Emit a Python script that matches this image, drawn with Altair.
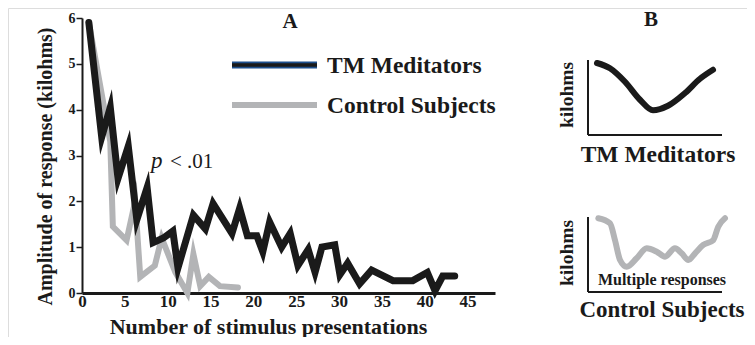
import altair as alt
import pandas as pd

# ---- Panel A data ----
tm_x = [0.8, 2.3, 3.3, 4.2, 5.4, 6.4, 7.6, 8.3, 9.5, 10.6, 11.2, 13.0, 14.4, 15.3, 17.5,
        18.4, 19.3, 20.4, 21.1, 21.9, 23.3, 24.3, 25.2, 26.4, 27.2, 28.0, 29.5, 30.1,
        31.0, 32.4, 33.8, 36.3, 38.6, 40.3, 41.2, 42.1, 43.5]
tm_y = [5.9, 3.4, 4.05, 2.5, 3.2, 1.6, 2.3, 1.1, 1.2, 1.35, 0.55, 1.7, 1.4, 1.95, 1.3,
        1.85, 1.25, 1.25, 0.9, 1.55, 1.0, 1.3, 0.6, 0.95, 0.45, 1.0, 1.05, 0.4,
        0.65, 0.2, 0.5, 0.27, 0.27, 0.45, 0.05, 0.37, 0.37]
ctl_x = [0.8, 3.3, 3.6, 5.2, 6.2, 6.8, 8.5, 9.3, 10.9, 12.3, 13.0, 13.8, 14.8, 16.1, 18.2]
ctl_y = [5.9, 3.3, 1.45, 1.15, 2.0, 0.35, 0.6, 1.2, 0.45, 0.0, 0.85, 0.15, 0.35, 0.15, 0.12]
series_names = ["Control Subjects", "TM Meditators"]
x_ticks = [0, 5, 10, 15, 20, 25, 30, 35, 40, 45]
y_ticks = [0, 1, 2, 3, 4, 5, 6]

# ---- Panel B schematic curves ----
b_tm_x = [0.67, 1.64, 2.76, 3.88, 4.85, 5.97, 7.24, 8.36, 9.33]
b_tm_y = [9.6, 8.9, 7.1, 4.7, 3.3, 3.9, 5.6, 7.5, 8.7]
b_ctl_x = [0.77, 1.64, 2.01, 2.39, 2.89, 3.63, 4.38, 5.13, 5.75, 6.49, 6.99, 7.49,
           7.99, 8.6, 9.35, 9.72, 10.22]
b_ctl_y = [9.83, 9.16, 6.93, 4.27, 3.37, 4.49, 5.83, 5.37, 4.71, 5.83, 5.16, 4.27,
           5.16, 6.27, 6.93, 8.71, 9.83]

W, H = 739, 329
SERIF = "Liberation Serif"
INK = "#1a1a1a"
GRAY = "#b3b4b6"
BLUE = "#1d4f8c"

main_df = pd.DataFrame({
    "x": ctl_x + tm_x,
    "y": ctl_y + tm_y,
    "series": [series_names[0]] * len(ctl_x) + [series_names[1]] * len(tm_x),
})

X_AXIS_Y = 285
xs = alt.Scale(domain=[0, 48.2], range=[74, 487], nice=False, zero=False)
ys = alt.Scale(domain=[0, 6], range=[X_AXIS_Y, 10], nice=False)

main = alt.Chart(main_df).mark_line(strokeJoin="miter", strokeCap="round", strokeMiterLimit=10).encode(
    x=alt.X("x:Q", scale=xs, axis=alt.Axis(
        values=x_ticks, offset=X_AXIS_Y - H, tickSize=0, labelFlush=False, labelOverlap=False,
        labelFont=SERIF, labelFontSize=17, labelFontWeight="bold", labelColor=INK,
        labelPadding=0, domainColor=INK, domainWidth=3, grid=False,
        title="Number of stimulus presentations", titleFont=SERIF, titleFontSize=22,
        titleFontWeight="bold", titleColor=INK, titleX=260, titleY=33,
        titleAlign="center", titleBaseline="middle")),
    y=alt.Y("y:Q", scale=ys, axis=alt.Axis(
        values=y_ticks, offset=-74, tickSize=6, tickWidth=1.5, tickColor=INK,
        labelFont=SERIF, labelFontSize=14, labelFontWeight="bold", labelColor=INK,
        labelPadding=1, labelOverlap=False, domainColor=INK, domainWidth=2, grid=False,
        title="Amplitude of response (kilohms)", titleFont=SERIF, titleFontSize=20,
        titleFontWeight="bold", titleColor=INK, titleX=-37, titleY=158, titleAngle=270,
        titleAlign="center", titleBaseline="middle")),
    color=alt.Color("series:N", scale=alt.Scale(domain=series_names, range=[GRAY, INK]), legend=None),
    strokeWidth=alt.StrokeWidth("series:N", scale=alt.Scale(domain=series_names, range=[6, 7]), legend=None),
    order=alt.Order("x:Q"),
)


def b_panel(cx, cy, color, y_range):
    bx = alt.Scale(domain=[0, 10], range=[580, 714], nice=False, zero=False)
    by = alt.Scale(domain=[0, 10], range=y_range, nice=False, zero=False)
    curve = alt.Chart(pd.DataFrame({"x": cx, "y": cy})).mark_line(
        color=color, strokeWidth=6, strokeCap="round", interpolate="monotone").encode(
        x=alt.X("x:Q", scale=bx, axis=None), y=alt.Y("y:Q", scale=by, axis=None))
    ax = alt.Chart(pd.DataFrame({"x": [0, 0], "y": [0, 0], "x2": [0, 10], "y2": [10, 0]})).mark_rule(
        color=INK, strokeWidth=2).encode(
        x=alt.X("x:Q", scale=bx, axis=None), y=alt.Y("y:Q", scale=by, axis=None),
        x2="x2:Q", y2="y2:Q")
    return alt.layer(ax, curve)


b1 = b_panel(b_tm_x, b_tm_y, INK, [127, 52])
b2 = b_panel(b_ctl_x, b_ctl_y, GRAY, [284, 209])


def label(s, x, y, size, weight="bold", style="normal", align="center", baseline="middle", angle=0):
    return alt.Chart(pd.DataFrame({"t": [s]})).mark_text(
        font=SERIF, fontSize=size, fontWeight=weight, fontStyle=style, color=INK,
        align=align, baseline=baseline, angle=angle).encode(
        text="t:N", x=alt.value(x), y=alt.value(y))


def legend_rule(x1, x2, y, color, width):
    return alt.Chart(pd.DataFrame({"k": [0]})).mark_rule(color=color, strokeWidth=width, strokeCap="butt").encode(
        x=alt.value(x1), x2=alt.value(x2), y=alt.value(y))


texts = [
    label("A", 282, 14, 21),
    label("B", 643, 12, 21),
    label("p", 143, 160, 23, weight="normal", style="italic", align="left", baseline="alphabetic"),
    label("< .01", 162, 160, 21, weight="normal", align="left", baseline="alphabetic"),
    label(series_names[1], 319, 58, 23.5, align="left"),
    label(series_names[0], 319, 98, 23.5, align="left"),
    label("kilohms", 559, 87, 19.5, angle=270),
    label("kilohms", 559, 245, 19.5, angle=270),
    label("TM Meditators", 650, 147, 23.5),
    label("Multiple responses", 654, 272, 16),
    label("Control Subjects", 654, 302, 23),
]

legend_parts = [
    legend_rule(224, 309, 57, BLUE, 7),
    legend_rule(224, 309, 57, INK, 3.5),
    legend_rule(224, 309, 97, GRAY, 6),
]

chart = alt.layer(main, b1, b2, *legend_parts, *texts).resolve_scale(
    x="independent", y="independent"
).properties(
    width=W, height=H, autosize="none", padding=0
).configure_view(stroke=None).configure(background="white")

chart.save("out.html", embed_options={"renderer": "svg", "actions": False})
